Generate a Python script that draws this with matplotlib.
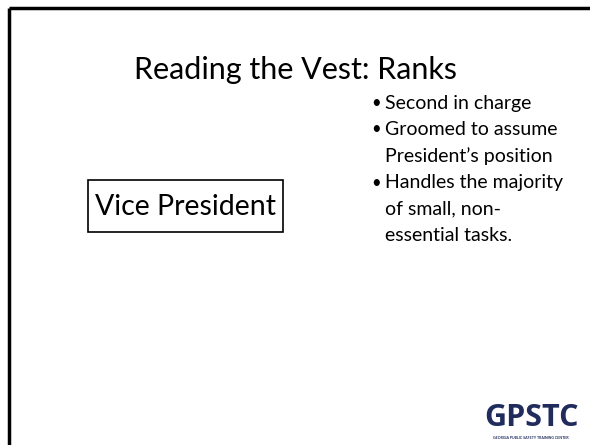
import matplotlib.pyplot as plt
from matplotlib.patches import Rectangle

title = "Reading the Vest: Ranks"
rank = "Vice President"
bullets = [
    ["Second in charge"],
    ["Groomed to assume", "President\u2019s position"],
    ["Handles the majority", "of small, non-", "essential tasks."],
]
logo = "GPSTC"
logo_sub = "GEORGIA PUBLIC SAFETY TRAINING CENTER"

W, H = 590, 445
fig = plt.figure(figsize=(W / 100, H / 100), dpi=100)
ax = fig.add_axes([0, 0, 1, 1])
ax.set_xlim(0, W)
ax.set_ylim(H, 0)
ax.axis("off")

font = ["Lato", "DejaVu Sans"]

# frame lines (left and top)
ax.plot([9, 9], [8, H], color="black", lw=2.5, solid_capstyle="butt")
ax.plot([9, W], [8, 8], color="black", lw=2.5, solid_capstyle="butt")

ax.text(295, 70, title, ha="center", va="center", fontsize=22, family=font)

ax.add_patch(Rectangle((88, 180), 195, 52, fill=False, lw=1.2, ec="black"))
ax.text(185.5, 207, rank, ha="center", va="center", fontsize=20.5, family=font)

y = 103
dy = 26.5
for item in bullets:
    ax.text(371, y, "\u2022", ha="left", va="center", fontsize=12, family=font)
    for line in item:
        ax.text(385, y, line, ha="left", va="center", fontsize=14, family=font)
        y += dy

ax.text(531, 418, logo, ha="center", va="center", fontsize=22, fontweight="bold",
        color="#1f2c5c", family=["Open Sans", "DejaVu Sans"])
ax.text(531, 438, logo_sub, ha="center", va="center", fontsize=2.6,
        fontweight="bold", color="#1f2c5c", family=font)

fig.savefig("out.png", dpi=100)
